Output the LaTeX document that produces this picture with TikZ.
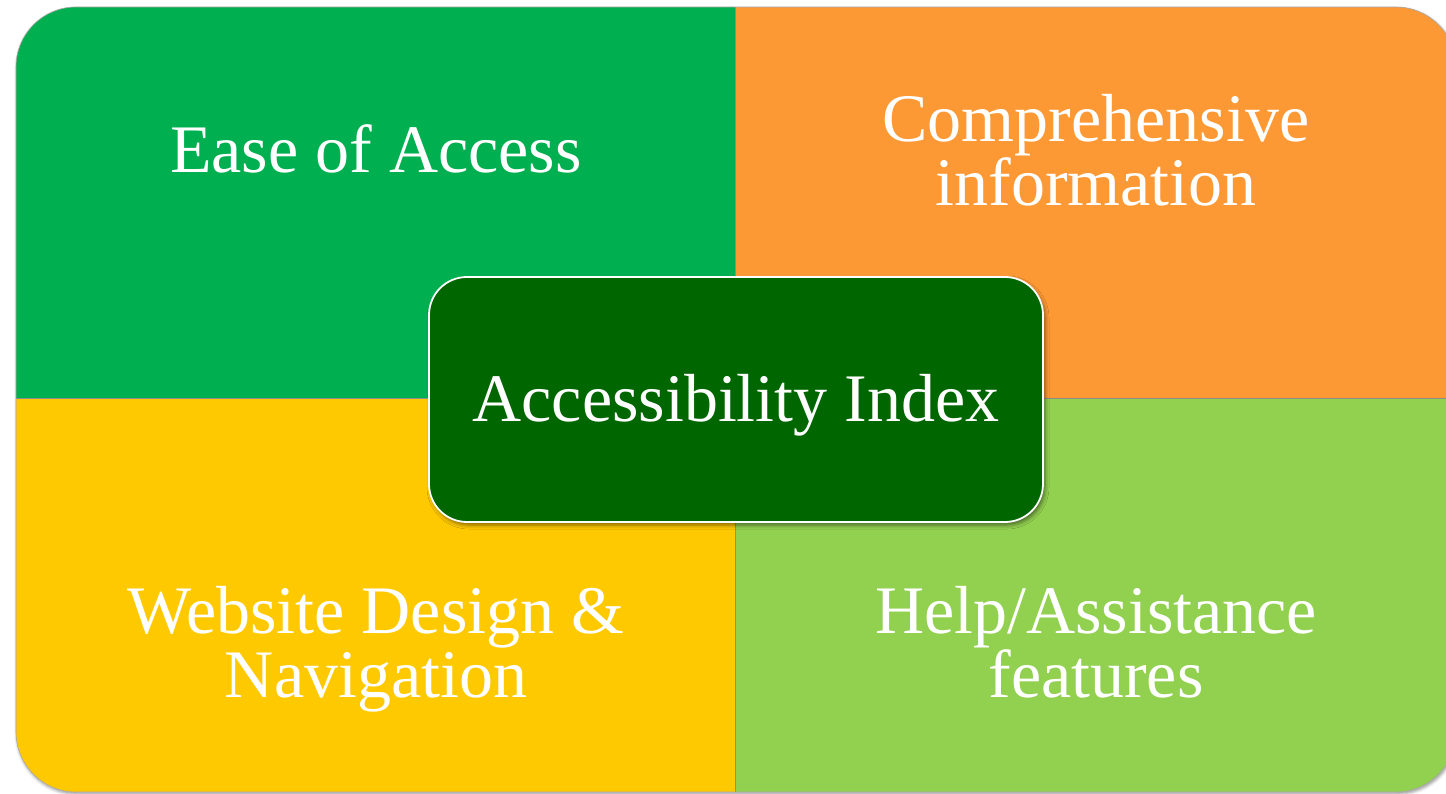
\documentclass[tikz,border=0pt]{standalone}
\usepackage{fontspec}
\setmainfont{Liberation Serif}
\usetikzlibrary{shadows.blur}
\definecolor{qgreen}{HTML}{00B050}
\definecolor{qorange}{HTML}{FD9935}
\definecolor{qyellow}{HTML}{FFC900}
\definecolor{qlime}{HTML}{92D050}
\definecolor{qdark}{HTML}{006600}
\tikzset{
  lbl/.style={text=white, font=\fontsize{68}{64}\selectfont, align=center, inner sep=0pt, anchor=base},
  seam/.style={draw=black!45, line width=1pt},
}
\begin{document}
\begin{tikzpicture}[x=1pt,y=-1pt]
\useasboundingbox (0,0) rectangle (1446,794);
% outer shadow
\fill[blur shadow={shadow xshift=1pt, shadow yshift=-2pt, shadow blur radius=3pt, shadow opacity=40}, white!0, rounded corners=60pt] (16,7) rectangle (1456,792);
\begin{scope}
  \clip[rounded corners=60pt] (16,7) rectangle (1456,792);
  \fill[qgreen]  (16,7) rectangle (736,399);
  \fill[qorange] (736,7) rectangle (1456,399);
  \fill[qyellow] (16,399) rectangle (736,792);
  \fill[qlime]   (736,399) rectangle (1456,792);
  \draw[seam] (735.5,7) -- (735.5,792);
  \draw[seam] (16,398.5) -- (1456,398.5);
\end{scope}
\draw[draw=black!35, line width=0.6pt, rounded corners=60pt] (16,7) rectangle (1456,792);
% center box
\node[draw=white, line width=1.8pt, fill=qdark, rounded corners=38pt, minimum width=614pt, minimum height=245pt,
  blur shadow={shadow xshift=2pt, shadow yshift=-3pt, shadow blur radius=4pt, shadow opacity=50}] (core) at (736,399.5) {};
\node[lbl] (idx) at (736,421) {Accessibility Index};
\node[lbl] (ease) at (376,173) {Ease of Access};
\node[lbl] (comp) at (1096,206) {Comprehensive\\information};
\node[lbl] (web) at (376,697) {Website Design \&\\Navigation};
\node[lbl] (help) at (1096,697) {Help/Assistance\\features};
\end{tikzpicture}
\end{document}
